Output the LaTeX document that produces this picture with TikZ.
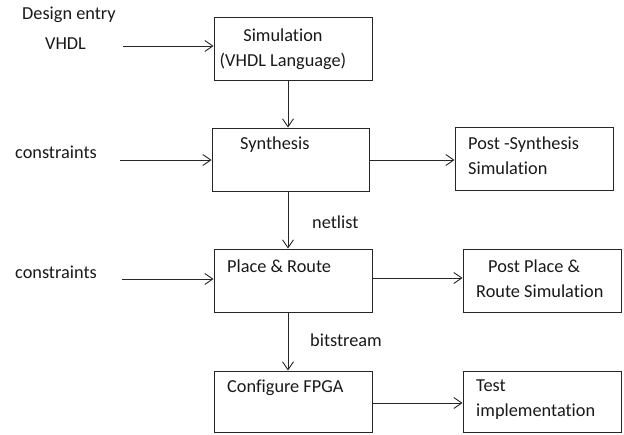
\documentclass[tikz,border=0pt]{standalone}
\usepackage{fontspec}
\setmainfont{Carlito}[Ligatures=NoCommon]
\usetikzlibrary{arrows.meta}

\tikzset{
  stage/.style={draw=black!85, line width=0.9pt, rectangle, inner sep=0pt},
  lbl/.style={anchor=west, inner sep=0pt, font=\fontsize{18.3}{25}\selectfont, text=black!90},
  arr/.style={draw=black!85, line width=0.9pt, -{Straight Barb[length=8pt,width=11pt,line width=0.9pt]}},
}

\begin{document}
\begin{tikzpicture}[x=1pt,y=-1pt]
  \useasboundingbox (0,0) rectangle (624,434);

  % process boxes
  \node[stage, minimum width=158pt, minimum height=63pt] (sim)  at (293,48.5)  {};
  \node[stage, minimum width=157pt, minimum height=63pt] (syn)  at (290.5,159.5) {};
  \node[stage, minimum width=158pt, minimum height=63pt] (psyn) at (534,158.5) {};
  \node[stage, minimum width=158pt, minimum height=63pt] (pr)   at (293,280.5) {};
  \node[stage, minimum width=158pt, minimum height=63pt] (ppr)  at (542,280.5) {};
  \node[stage, minimum width=158pt, minimum height=61pt] (cfg)  at (293,401.5) {};
  \node[stage, minimum width=158pt, minimum height=61pt] (test) at (542,401.5) {};

  % box texts
  \node[lbl, anchor=center, align=center] (simtxt) at (283,49.5) {Simulation\\(VHDL Language)};
  \node[lbl] (syntxt)  at (240,145) {Synthesis};
  \node[lbl, align=left] (psyntxt) at (468,155.5) {Post -Synthesis\\Simulation};
  \node[lbl] (prtxt)   at (227,266) {Place \& Route};
  \node[lbl, align=left] (pprtxt)  at (476,278.5) {\hspace*{12pt}Post Place \&\\Route Simulation};
  \node[lbl] (cfgtxt)  at (227,388) {Configure FPGA};
  \node[lbl, align=left] (testtxt) at (476,400) {Test\\implementation};

  % inputs on the left
  \node[lbl] (design) at (22,15) {Design entry};
  \node[lbl] (vhdl)   at (45,44) {VHDL};
  \node[lbl] (cons1)  at (15,152) {constraints};
  \node[lbl] (cons2)  at (15,272) {constraints};

  % labels on the vertical flow
  \node[lbl] (netlist)   at (312,222) {netlist};
  \node[lbl] (bitstream) at (310,340) {bitstream};

  % free ends of the input arrows and the column of the main flow
  \coordinate (vin) at (123,46);
  \coordinate (c1in) at (120,160);
  \coordinate (c2in) at (122,279);
  \coordinate (col) at (288,0);

  % input arrows
  \draw[arr] (vin) -- (vin -| sim.west);
  \draw[arr] (c1in) -- (c1in -| syn.west);
  \draw[arr] (c2in) -- (c2in -| pr.west);

  % main downward flow
  \draw[arr] (sim.south -| col) -- (syn.north -| col);
  \draw[arr] (syn.south -| col) -- (pr.north -| col);
  \draw[arr] (pr.south -| col) -- (cfg.north -| col);

  % side branches
  \coordinate (r1) at (0,160);
  \coordinate (r2) at (0,278);
  \coordinate (r3) at (0,403);
  \draw[arr] (syn.east |- r1) -- (psyn.west |- r1);
  \draw[arr] (pr.east |- r2) -- (ppr.west |- r2);
  \draw[arr] (cfg.east |- r3) -- (test.west |- r3);
\end{tikzpicture}
\end{document}
